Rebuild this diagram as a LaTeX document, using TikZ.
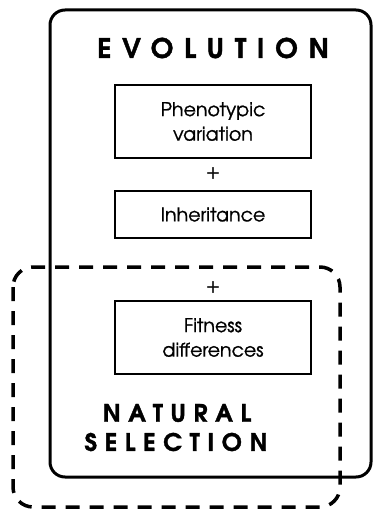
\documentclass[tikz,border=0pt]{standalone}
\usepackage{fontspec}
\setmainfont{texgyreadventor-regular.otf}[BoldFont=texgyreadventor-bold.otf]
\begin{document}
\begin{tikzpicture}[x=1pt,y=1pt,
  inbox/.style={draw,line width=1.8pt,minimum width=196pt,align=center,font=\fontsize{19}{24.5}\selectfont\addfontfeatures{FakeBold=1},inner sep=0pt},
  plus/.style={font=\fontsize{20}{20}\selectfont\addfontfeatures{FakeBold=1},inner sep=0pt},
  title/.style={font=\fontsize{27}{29}\selectfont\bfseries\addfontfeatures{LetterSpace=40,FakeBold=1.5},inner sep=0pt,align=center},
  subtitle/.style={font=\fontsize{24}{29}\selectfont\bfseries\addfontfeatures{LetterSpace=32,FakeBold=1.5},inner sep=0pt,align=center}]
\useasboundingbox (0,0) rectangle (373,-510);
\fill[white] (0,0) rectangle (373,-510);
\draw[line width=3pt,rounded corners=15pt] (50,-10) rectangle (371,-477);
\draw[line width=3.5pt,rounded corners=20pt,dash pattern=on 14pt off 10pt] (13,-267) rectangle (340,-507);
\node[title] (evo) at (213,-48) {EVOLUTION};
\node[inbox,minimum height=73pt] (pheno) at (213,-121.5) {Phenotypic\\variation};
\node[plus] (p1) at (213,-173) {+};
\node[inbox,minimum height=47pt] (inh) at (213,-214.5) {Inheritance};
\node[plus] (p2) at (213,-287) {+};
\node[inbox,minimum height=73pt] (fit) at (213,-337.5) {Fitness\\differences};
\node[subtitle] (nat) at (177,-413) {NATURAL};
\node[subtitle] (sel) at (176,-442) {SELECTION};
\end{tikzpicture}
\end{document}
